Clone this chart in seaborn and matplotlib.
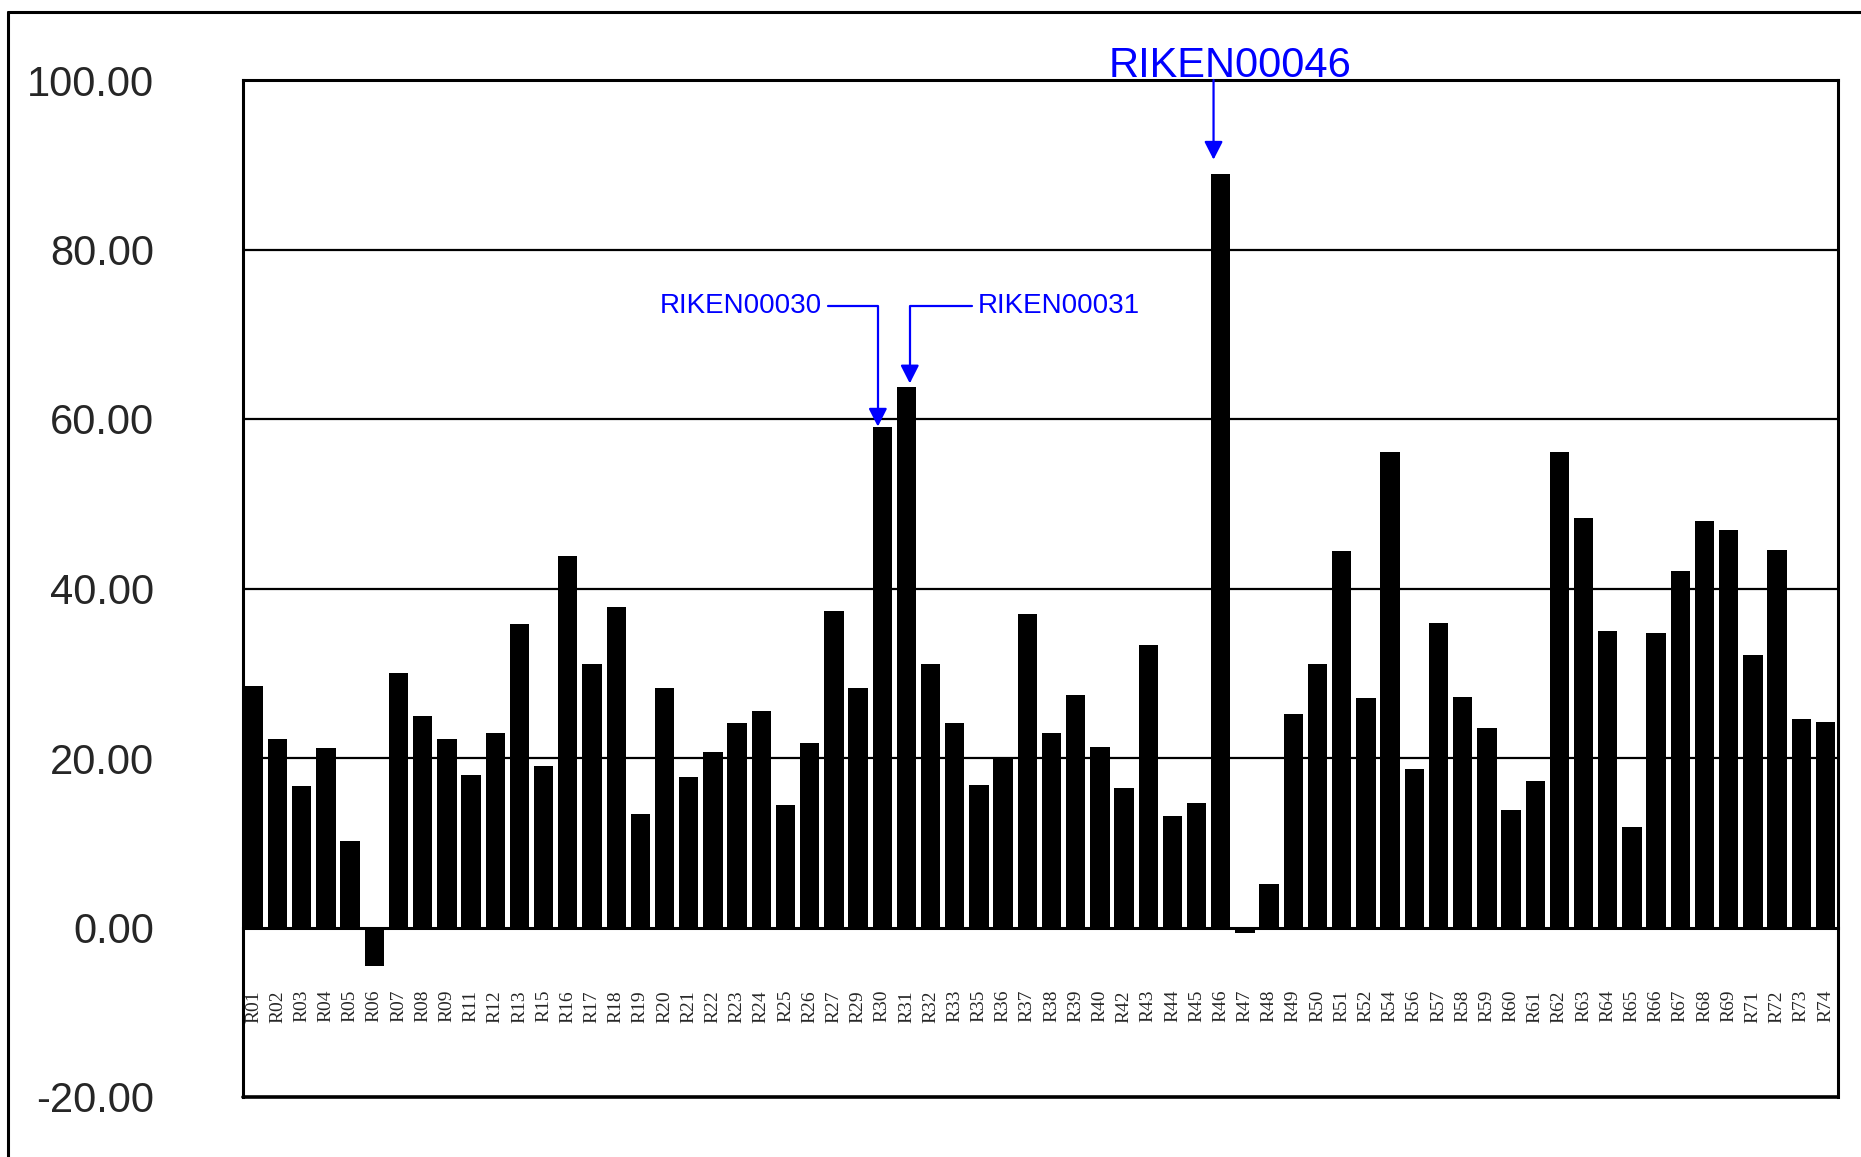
import matplotlib
matplotlib.use("Agg")
import matplotlib.pyplot as plt
from matplotlib.lines import Line2D
import seaborn as sns

# Sample identifiers along the x axis
labels = ["R01", "R02", "R03", "R04", "R05", "R06", "R07", "R08", "R09", "R11",
          "R12", "R13", "R15", "R16", "R17", "R18", "R19", "R20", "R21", "R22",
          "R23", "R24", "R25", "R26", "R27", "R29", "R30", "R31", "R32", "R33",
          "R35", "R36", "R37", "R38", "R39", "R40", "R42", "R43", "R44", "R45",
          "R46", "R47", "R48", "R49", "R50", "R51", "R52", "R54", "R56", "R57",
          "R58", "R59", "R60", "R61", "R62", "R63", "R64", "R65", "R66", "R67",
          "R68", "R69", "R71", "R72", "R73", "R74"]

values = [28.5, 22.3, 16.7, 21.2, 10.2, -4.6, 30.0, 24.9, 22.3, 18.0,
          22.9, 35.8, 19.0, 43.8, 31.1, 37.8, 13.4, 28.3, 17.8, 20.7,
          24.1, 25.5, 14.4, 21.8, 37.3, 28.3, 59.0, 63.8, 31.1, 24.1,
          16.8, 20.0, 37.0, 22.9, 27.4, 21.3, 16.5, 33.3, 13.1, 14.7,
          88.9, -0.7, 5.1, 25.2, 31.1, 44.4, 27.1, 56.1, 18.7, 35.9,
          27.2, 23.5, 13.9, 17.3, 56.1, 48.3, 35.0, 11.9, 34.7, 42.1,
          48.0, 46.9, 32.2, 44.6, 24.6, 24.3]

y_ticks = [-20, 0, 20, 40, 60, 80, 100]
y_tick_labels = ["-20.00", "0.00", "20.00", "40.00", "60.00", "80.00", "100.00"]

# Highlighted samples
callout_small = [("RIKEN00030", "R30"), ("RIKEN00031", "R31")]
callout_big = ("RIKEN00046", "R46")

sns.set_style("white")
plt.rcParams["font.family"] = ["Liberation Sans", "DejaVu Sans"]

W, H = 1861, 1157
fig = plt.figure(figsize=(W / 100, H / 100), dpi=100)
ax = fig.add_axes([243 / W, 1 - 1097 / H, (1838 - 243) / W, (1097 - 80) / H])

sns.barplot(x=labels, y=values, color="black", saturation=1, width=0.8,
            edgecolor="none", ax=ax)

ax.set_xlim(-0.43, 65.52)
ax.set_ylim(-20, 100)
ax.set_xlabel("")
ax.set_ylabel("")

# Horizontal grid
ax.set_yticks(y_ticks, y_tick_labels)
for t in [20, 40, 60, 80]:
    ax.axhline(t, color="black", lw=1.6, zorder=0.5)

# Frame: category axis sits at zero, outer box drawn separately
for side in ["left", "right", "top", "bottom"]:
    ax.spines[side].set_color("black")
    ax.spines[side].set_linewidth(2.2)
ax.spines["bottom"].set_position(("data", 0))
ax.axhline(-20, color="black", lw=2.6, clip_on=False, zorder=3)

ax.tick_params(axis="y", length=0, pad=64, labelsize=30)
ax.tick_params(axis="x", length=0, pad=45, labelsize=14, labelrotation=90)
for lbl in ax.get_xticklabels():
    lbl.set_fontfamily("Liberation Serif")

# Callouts
pos = {lab: i for i, lab in enumerate(labels)}
head = "-|>,head_length=0.55,head_width=0.28"

name, lab = callout_small[0]
i = pos[lab]
ax.annotate(name, xy=(i - 0.18, values[i] + 0.1), xytext=(23.5, 73.3),
            ha="right", va="center", fontsize=20, color="blue",
            arrowprops=dict(arrowstyle=head, color="blue", lw=1.6,
                            mutation_scale=20, shrinkB=0,
                            connectionstyle="angle,angleA=0,angleB=90,rad=0"))

name, lab = callout_small[1]
i = pos[lab]
ax.annotate(name, xy=(i + 0.14, values[i] + 0.4), xytext=(29.95, 73.3),
            ha="left", va="center", fontsize=20, color="blue",
            arrowprops=dict(arrowstyle=head, color="blue", lw=1.6,
                            mutation_scale=20, shrinkB=0,
                            connectionstyle="angle,angleA=0,angleB=90,rad=0"))

name, lab = callout_big
i = pos[lab]
ax.annotate("", xy=(i - 0.3, values[i] + 1.7), xytext=(i - 0.3, 100),
            arrowprops=dict(arrowstyle=head, color="blue", lw=1.6,
                            mutation_scale=20, shrinkA=0, shrinkB=0),
            annotation_clip=False)
ax.text(i + 0.37, 100.35, name, ha="center", va="baseline", fontsize=30,
        color="blue", clip_on=False)

# Outer border
fig.add_artist(Line2D([8 / W, 8 / W], [0, 1 - 12 / H], transform=fig.transFigure,
                      color="black", lw=2.2))
fig.add_artist(Line2D([8 / W, 1], [1 - 12 / H, 1 - 12 / H], transform=fig.transFigure,
                      color="black", lw=2.2))

fig.savefig("out.png", dpi=100, facecolor="white")
